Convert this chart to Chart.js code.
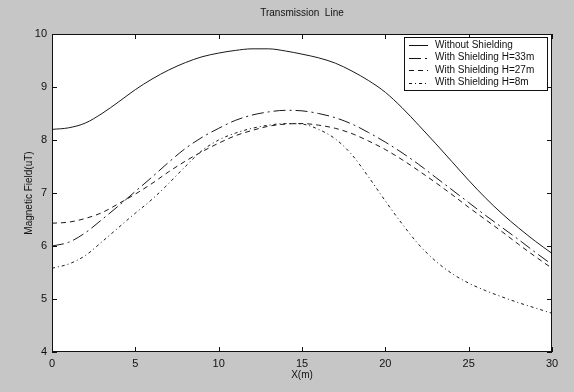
<!DOCTYPE html>
<html>
<head>
<meta charset="utf-8">
<script src="https://cdn.jsdelivr.net/npm/chart.js@4/dist/chart.umd.min.js"></script>
<style>
  html, body { margin: 0; padding: 0; background: #c6c6c6; }
  #wrap { width: 574px; height: 392px; }
</style>
</head>
<body>
<div id="wrap"><canvas id="myChart" width="574" height="392"></canvas></div>
<script>
// values
const xPositions = [0, 1, 2, 3, 4, 5, 6, 7, 8, 9, 10, 11, 12, 13, 14, 15, 16, 17, 18, 19, 20, 21, 22, 23, 24, 25, 26, 27, 28, 29, 30];
const withoutShielding = [8.20, 8.23, 8.32, 8.50, 8.72, 8.95, 9.15, 9.32, 9.46, 9.57, 9.64, 9.69, 9.72, 9.72, 9.68, 9.62, 9.55, 9.45, 9.30, 9.12, 8.90, 8.61, 8.28, 7.94, 7.59, 7.24, 6.91, 6.61, 6.34, 6.09, 5.86];
const shieldH33 = [6.00, 6.07, 6.25, 6.50, 6.76, 7.03, 7.30, 7.58, 7.84, 8.05, 8.22, 8.37, 8.47, 8.53, 8.56, 8.55, 8.50, 8.42, 8.30, 8.14, 7.96, 7.76, 7.54, 7.30, 7.06, 6.82, 6.58, 6.35, 6.12, 5.88, 5.65];
const shieldH27 = [6.43, 6.45, 6.52, 6.63, 6.80, 6.98, 7.18, 7.40, 7.60, 7.78, 7.94, 8.08, 8.18, 8.26, 8.30, 8.31, 8.28, 8.22, 8.12, 7.98, 7.82, 7.63, 7.42, 7.20, 6.97, 6.73, 6.50, 6.27, 6.03, 5.80, 5.58];
const shieldH8 = [5.58, 5.66, 5.82, 6.08, 6.35, 6.62, 6.88, 7.18, 7.50, 7.80, 8.00, 8.13, 8.22, 8.28, 8.31, 8.30, 8.20, 8.02, 7.72, 7.30, 6.85, 6.42, 6.03, 5.72, 5.48, 5.30, 5.16, 5.04, 4.93, 4.83, 4.73];
const seriesNames = ['Without Shielding', 'With Shielding H=33m', 'With Shielding H=27m', 'With Shielding H=8m'];
const xTicks = [0, 5, 10, 15, 20, 25, 30];
const yTicks = [4, 5, 6, 7, 8, 9, 10];
const chartTitle = 'Transmission  Line';
const xTitle = 'X(m)';
const yTitle = 'Magnetic Field(uT)';

const FONT = '"Liberation Sans", Arial, sans-serif';
const dashes = [[], [12, 4, 2, 4], [5, 4], [3, 3, 1, 3]];

const toPoints = (arr) => arr.map((v, i) => ({ x: xPositions[i], y: v }));

// frame, inner ticks, title, axis titles and the legend box (matlab look)
const matlabDecor = {
    id: 'matlabDecor',
    beforeDraw(chart) {
        const ctx = chart.ctx;
        ctx.save();
        ctx.fillStyle = '#c6c6c6';
        ctx.fillRect(0, 0, chart.width, chart.height);
        const a = chart.chartArea;
        ctx.fillStyle = '#ffffff';
        ctx.fillRect(a.left, a.top, a.right - a.left, a.bottom - a.top);
        ctx.restore();
    },
    afterDraw(chart) {
        const ctx = chart.ctx;
        const a = chart.chartArea;
        const xs = chart.scales.x;
        const ys = chart.scales.y;
        ctx.save();
        ctx.strokeStyle = '#111';
        ctx.lineWidth = 1;
        ctx.strokeRect(a.left + 0.5, a.top + 0.5, a.right - a.left - 1, a.bottom - a.top - 1);
        ctx.beginPath();
        xTicks.forEach(t => {
            const px = Math.round(xs.getPixelForValue(t)) + 0.5;
            ctx.moveTo(px, a.bottom); ctx.lineTo(px, a.bottom - 5);
            ctx.moveTo(px, a.top); ctx.lineTo(px, a.top + 5);
        });
        yTicks.forEach(t => {
            const py = Math.round(ys.getPixelForValue(t)) + 0.5;
            ctx.moveTo(a.left, py); ctx.lineTo(a.left + 5, py);
            ctx.moveTo(a.right, py); ctx.lineTo(a.right - 5, py);
        });
        ctx.stroke();

        ctx.fillStyle = '#111';
        ctx.font = '10px ' + FONT;
        ctx.textAlign = 'center';
        ctx.textBaseline = 'middle';
        const cx = (a.left + a.right) / 2;
        ctx.fillText(chartTitle, cx, 13);
        ctx.fillText(xTitle, cx, 375);
        ctx.save();
        ctx.translate(29, (a.top + a.bottom) / 2);
        ctx.rotate(-Math.PI / 2);
        ctx.fillText(yTitle, 0, 0);
        ctx.restore();

        // legend
        const lx = 404, ly = 37, lw = 143, lh = 53;
        ctx.fillStyle = '#ffffff';
        ctx.fillRect(lx, ly, lw, lh);
        ctx.strokeRect(lx + 0.5, ly + 0.5, lw, lh);
        ctx.textAlign = 'left';
        chart.data.datasets.forEach((ds, i) => {
            const y = ly + 8 + i * 12.5;
            ctx.beginPath();
            ctx.setLineDash(ds.borderDash || []);
            ctx.moveTo(lx + 5, Math.round(y) + 0.5);
            ctx.lineTo(lx + 24, Math.round(y) + 0.5);
            ctx.stroke();
            ctx.setLineDash([]);
            ctx.fillStyle = '#111';
            ctx.fillText(ds.label, lx + 31, y);
        });
        ctx.restore();
    }
};

const ctx = document.getElementById('myChart').getContext('2d');
new Chart(ctx, {
    type: 'line',
    data: {
        datasets: [withoutShielding, shieldH33, shieldH27, shieldH8].map((arr, i) => ({
            label: seriesNames[i],
            data: toPoints(arr),
            borderColor: '#1a1a1a',
            borderWidth: 1,
            borderDash: dashes[i],
            pointRadius: 0,
            cubicInterpolationMode: 'monotone',
            fill: false
        }))
    },
    options: {
        responsive: false,
        animation: false,
        layout: { padding: { top: 34, right: 22, left: 0, bottom: 0 } },
        plugins: {
            legend: { display: false },
            title: { display: false },
            tooltip: { enabled: false }
        },
        scales: {
            x: {
                type: 'linear',
                min: 0,
                max: 30,
                afterBuildTicks: (scale) => { scale.ticks = xTicks.map(v => ({ value: v })); },
                afterFit: (scale) => { scale.height = 40; },
                grid: { display: false, drawTicks: false },
                border: { display: false },
                ticks: { color: '#111', font: { family: FONT, size: 11 }, padding: 5, maxRotation: 0 }
            },
            y: {
                min: 4,
                max: 10,
                afterBuildTicks: (scale) => { scale.ticks = yTicks.map(v => ({ value: v })); },
                afterFit: (scale) => { scale.width = 52; },
                grid: { display: false, drawTicks: false },
                border: { display: false },
                ticks: { color: '#111', font: { family: FONT, size: 11 }, padding: 5 }
            }
        }
    },
    plugins: [matlabDecor]
});
</script>
</body>
</html>
